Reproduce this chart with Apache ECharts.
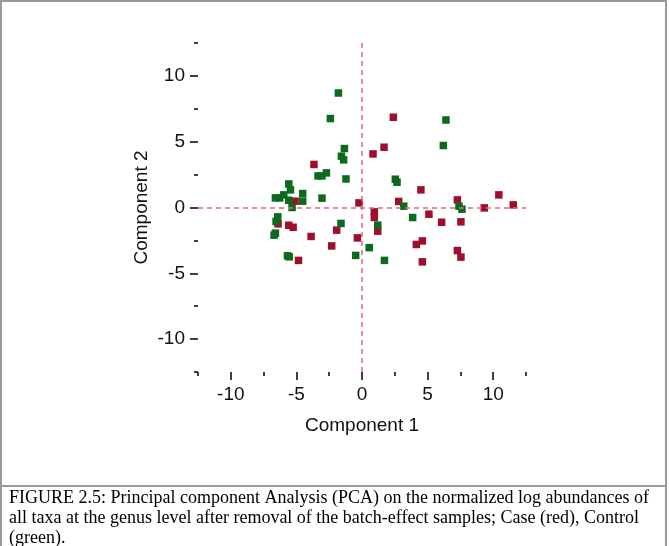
<!DOCTYPE html>
<html>
<head>
<meta charset="utf-8">
<script src="https://cdn.jsdelivr.net/npm/echarts@6/dist/echarts.min.js"></script>
<style>
  html, body { margin: 0; padding: 0; background: #fff; }
  #main { width: 669px; height: 546px; }
</style>
</head>
<body>
<div id="main"></div>
<script>
// PCA scores: [Component 1, Component 2]
const casePoints = [
  [2.39, 6.86], [1.68, 4.58], [0.84, 4.07], [-3.66, 3.27], [-5.10, 0.48],
  [-0.23, 0.35], [-6.40, -1.24], [-5.58, -1.35], [-5.25, -1.50], [-3.88, -2.20],
  [-1.93, -1.72], [-0.35, -2.31], [-2.31, -2.92], [-4.84, -4.02], [4.49, 1.34],
  [2.80, 0.46], [0.94, -0.33], [0.94, -0.76], [1.20, -1.80], [5.10, -0.51],
  [6.07, -1.12], [4.14, -2.81], [4.60, -2.54], [4.60, -4.13], [10.43, 0.96],
  [7.27, 0.58], [9.32, -0.03], [11.53, 0.20], [7.54, -1.09], [7.27, -3.27],
  [7.54, -3.77]
];
const controlPoints = [
  [-1.80, 8.70], [-2.41, 6.76], [-1.34, 4.48], [-1.57, 3.90], [-1.40, 3.62],
  [-3.35, 2.40], [-3.05, 2.40], [-2.71, 2.63], [-1.22, 2.17], [-5.58, 1.79],
  [-5.45, 1.34], [-6.60, 0.73], [-6.27, 0.73], [-5.96, 0.96], [-5.58, 0.55],
  [-4.52, 1.06], [-4.52, 0.48], [-3.05, 0.71], [-5.33, 0.00], [-6.42, -0.71],
  [-6.55, -1.06], [-6.60, -1.95], [-6.70, -2.10], [-1.60, -1.21], [-5.68, -3.67],
  [-5.55, -3.75], [-0.48, -3.64], [0.55, -3.05], [2.54, 2.15], [2.67, 1.92],
  [3.18, 0.10], [1.20, -1.34], [3.86, -0.76], [1.71, -4.02], [7.39, 0.10],
  [7.62, -0.13], [6.40, 6.65], [6.20, 4.71]
];
const majorTicks = [-10, -5, 0, 5, 10];
const minorTicks = [-12.5, -7.5, -2.5, 2.5, 7.5, 12.5];
const captionLines = [
  'FIGURE 2.5: Principal component Analysis (PCA) on the normalized log abundances of',
  'all taxa at the genus level after removal of the batch-effect samples; Case (red), Control',
  '(green).'
];

const chart = echarts.init(document.getElementById('main'));

const labelFont = { fontFamily: 'Liberation Sans', fontSize: 19, color: '#111' };

function axisPair(dim, nameText) {
  const pos = dim === 'x' ? 'bottom' : 'left';
  const main = {
    type: 'value', min: -12.5, max: 12.5, position: pos,
    name: nameText, nameLocation: 'middle',
    nameGap: dim === 'x' ? 44 : 47,
    nameTextStyle: { fontFamily: 'Liberation Sans', fontSize: 19, color: '#111' },
    axisLine: { show: false, onZero: false },
    splitLine: { show: false },
    axisTick: { show: true, length: 8, customValues: majorTicks, lineStyle: { color: '#000', width: 1.5 } },
    axisLabel: { show: true, margin: 13, customValues: majorTicks, ...labelFont }
  };
  const minor = {
    type: 'value', min: -12.5, max: 12.5, position: pos,
    axisLine: { show: false, onZero: false },
    splitLine: { show: false },
    axisTick: { show: true, length: 4, customValues: minorTicks, lineStyle: { color: '#000', width: 1.5 } },
    axisLabel: { show: false }
  };
  return [main, minor];
}

const option = {
  backgroundColor: '#fff',
  animation: false,
  grid: { left: 198, right: 143, top: 43, bottom: 174, outerBoundsMode: 'none' },
  xAxis: axisPair('x', 'Component 1'),
  yAxis: axisPair('y', 'Component 2'),
  series: [
    {
      name: 'Case', type: 'scatter', symbol: 'rect', symbolSize: 7.5,
      itemStyle: { color: '#9e0f2d', opacity: 1 },
      data: casePoints,
      markLine: {
        silent: true, symbol: 'none', animation: false,
        label: { show: false },
        lineStyle: { color: '#e0687a', type: [5, 4], width: 1.5 },
        data: [{ xAxis: 0 }, { yAxis: 0 }]
      },
      z: 3
    },
    {
      name: 'Control', type: 'scatter', symbol: 'rect', symbolSize: 7.5,
      itemStyle: { color: '#0b6a1c', opacity: 1 },
      data: controlPoints,
      z: 4
    }
  ],
  graphic: [
    { type: 'rect', shape: { x: 1, y: 1, width: 665, height: 560 },
      style: { fill: null, stroke: '#9a9a9a', lineWidth: 2 }, silent: true },
    { type: 'line', shape: { x1: 1, y1: 486, x2: 666, y2: 486 },
      style: { stroke: '#9a9a9a', lineWidth: 2 }, silent: true }
  ].concat(captionLines.map((t, i) => ({
    type: 'text', left: 9, top: 489 + i * 20,
    style: { text: t, font: '18px "Liberation Serif"', fill: '#000' }
  })))
};

chart.setOption(option);
</script>
</body>
</html>
